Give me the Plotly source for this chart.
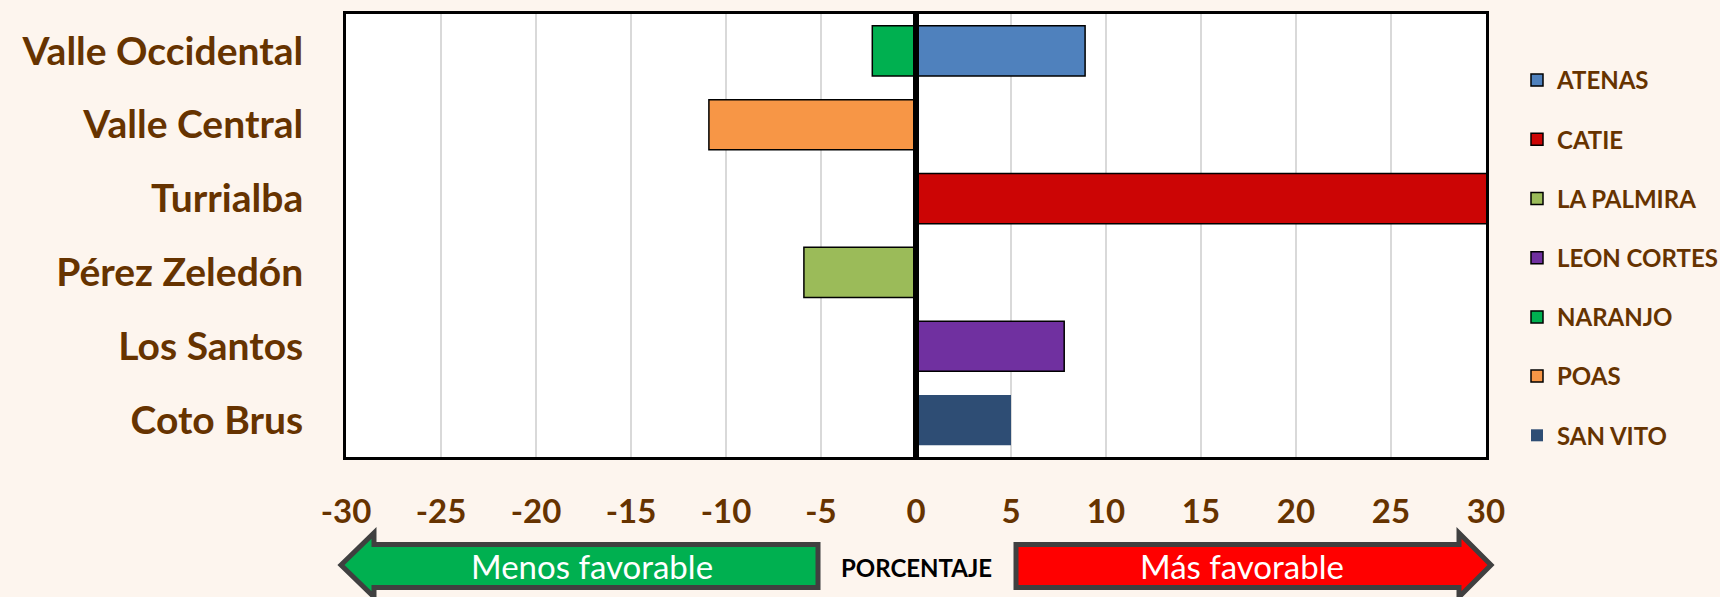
import plotly.graph_objects as go

# Regions (top to bottom) and the stations plotted against them
regions = ["Valle Occidental", "Valle Central", "Turrialba",
           "Pérez Zeledón", "Los Santos", "Coto Brus"]
stations = ["ATENAS", "CATIE", "LA PALMIRA", "LEON CORTES",
            "NARANJO", "POAS", "SAN VITO"]
station_region = ["Valle Occidental", "Turrialba", "Pérez Zeledón",
                  "Los Santos", "Valle Occidental", "Valle Central", "Coto Brus"]
percent_values = [8.9, 31.0, -5.9, 7.8, -2.3, -10.9, 5.0]
station_colors = ["#4F81BD", "#CC0505", "#9BBB59", "#7030A0",
                  "#00B050", "#F79646", "#2E4D74"]
outline_widths = [1.5, 1.5, 1.5, 1.5, 1.5, 1.5, 0]

x_tick_values = [-30, -25, -20, -15, -10, -5, 0, 5, 10, 15, 20, 25, 30]
x_tick_labels = ["-30", "-25", "-20", "-15", "-10", "-5", "0",
                 "5", "10", "15", "20", "25", "30"]

BROWN = "#663300"
PAPER_BG = "#FDF5EE"
W, H = 1720, 597
ML, MR, MT, MB = 346, 234, 14, 140
PW, PH = W - ML - MR, H - MT - MB


def px(x):
    return (x - ML) / PW


def py(y):
    return (H - MB - y) / PH


fig = go.Figure()
for name, region, val, col, lw in zip(stations, station_region,
                                      percent_values, station_colors,
                                      outline_widths):
    fig.add_trace(go.Bar(
        y=[region], x=[val], name=name, orientation="h",
        marker=dict(color=col, line=dict(color="#000000", width=lw)),
        legendgroup=name,
    ))

# vertical line at zero, drawn over the bars
fig.add_shape(type="line", xref="x", yref="paper", x0=0, x1=0, y0=0, y1=1,
              line=dict(color="#000000", width=6), layer="above")


def arrow_path(pts):
    return "M " + " L ".join(f"{px(a):.5f},{py(b):.5f}" for a, b in pts) + " Z"


left_arrow = [(341, 565), (374, 533), (374, 544.5), (818, 544.5),
              (818, 587.5), (374, 587.5), (374, 597)]
right_arrow = [(1016, 544.5), (1459, 544.5), (1459, 533), (1491, 565),
               (1459, 597), (1459, 587.5), (1016, 587.5)]
fig.add_shape(type="path", xref="paper", yref="paper", path=arrow_path(left_arrow),
              fillcolor="#00B050", line=dict(color="#404040", width=5))
fig.add_shape(type="path", xref="paper", yref="paper", path=arrow_path(right_arrow),
              fillcolor="#FF0000", line=dict(color="#404040", width=5))

fig.add_annotation(x=px(592), y=py(566), xref="paper", yref="paper",
                   xanchor="center", yanchor="middle",
                   text="Menos favorable", showarrow=False,
                   font=dict(family="Lato", size=33, color="#FFFFFF"))
fig.add_annotation(x=px(1242), y=py(566), xref="paper", yref="paper",
                   xanchor="center", yanchor="middle",
                   text="Más favorable", showarrow=False,
                   font=dict(family="Lato", size=33, color="#FFFFFF"))
fig.add_annotation(x=px(916), y=py(567), xref="paper", yref="paper",
                   xanchor="center", yanchor="middle",
                   text="<b>PORCENTAJE</b>", showarrow=False,
                   font=dict(family="Lato", size=24, color="#000000"))

fig.update_layout(
    width=W, height=H,
    margin=dict(l=ML, r=MR, t=MT, b=MB, autoexpand=False),
    paper_bgcolor=PAPER_BG, plot_bgcolor="#FFFFFF",
    barmode="relative", bargap=0.32,
    font=dict(family="Lato", color=BROWN),
    legend=dict(
        x=px(1517), xanchor="left", y=py(58), yanchor="top",
        traceorder="grouped", tracegroupgap=25,
        font=dict(family="Lato", size=24, color=BROWN, weight="bold"),
        bgcolor="rgba(0,0,0,0)",
    ),
    xaxis=dict(
        range=[-30, 30], tickvals=x_tick_values, ticktext=x_tick_labels,
        showgrid=True, gridcolor="#D9D9D9", gridwidth=1.5,
        zeroline=False, showline=True, linecolor="#000000", linewidth=3,
        mirror=True, ticks="outside", ticklen=23, tickcolor="rgba(0,0,0,0)",
        tickfont=dict(family="Lato", size=33, color=BROWN, weight="bold"),
    ),
    yaxis=dict(
        categoryorder="array", categoryarray=regions, autorange="reversed",
        showgrid=False, zeroline=False, showline=True, linecolor="#000000",
        linewidth=3, mirror=True, ticks="outside", ticklen=32,
        tickcolor="rgba(0,0,0,0)",
        tickfont=dict(family="Lato", size=39, color=BROWN, weight="bold"),
    ),
)

fig.write_html("out.html")
